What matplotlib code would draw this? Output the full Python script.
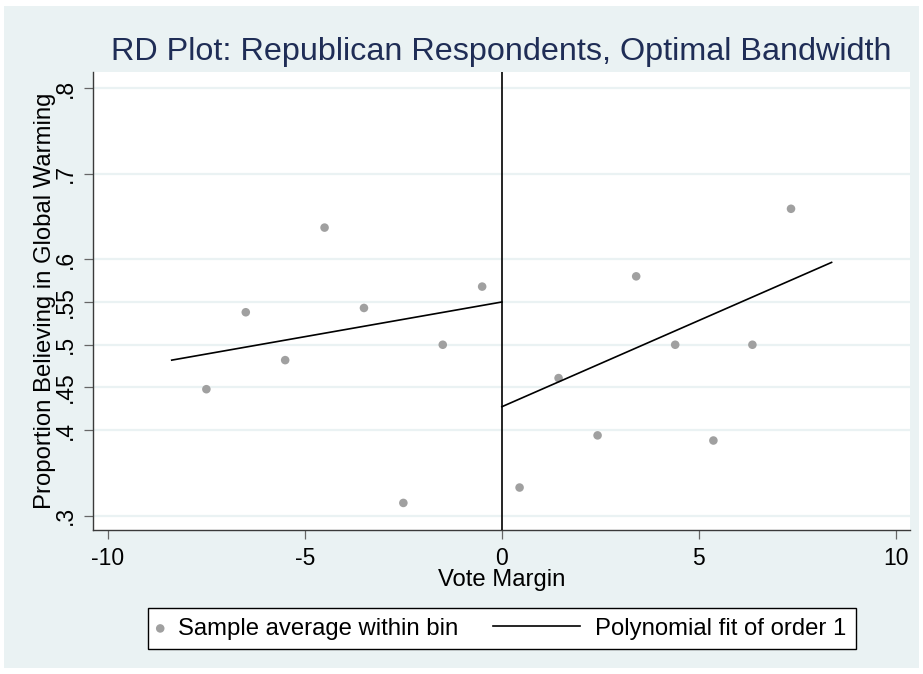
import matplotlib
matplotlib.use("Agg")
import matplotlib.pyplot as plt
from matplotlib.legend_handler import HandlerLine2D
from matplotlib.patches import Rectangle

plt.rcParams['font.family'] = ['Liberation Sans', 'DejaVu Sans']
plt.rcParams['axes.unicode_minus'] = False

# bin averages
left_x = [-7.5, -6.5, -5.5, -4.5, -3.5, -2.5, -1.5, -0.5]
left_y = [0.448, 0.538, 0.482, 0.637, 0.543, 0.315, 0.500, 0.568]
right_x = [0.45, 1.44, 2.43, 3.41, 4.40, 5.37, 6.36, 7.34]
right_y = [0.333, 0.461, 0.394, 0.580, 0.500, 0.388, 0.500, 0.659]

# order 1 fits on each side of the cutoff
fit_left_x = [-8.38, 0.0]
fit_left_y = [0.482, 0.550]
fit_right_x = [0.0, 8.37]
fit_right_y = [0.4275, 0.5963]

x_ticks = [-10, -5, 0, 5, 10]
x_labels = ["-10", "-5", "0", "5", "10"]
y_ticks = [0.3, 0.4, 0.45, 0.5, 0.55, 0.6, 0.7, 0.8]
y_labels = [".3", ".4", ".45", ".5", ".55", ".6", ".7", ".8"]

bg = '#EAF2F3'
dot = '#A0A0A0'
fs_tick = 16.5
fs = 17.2


class LongLine(HandlerLine2D):
    # draw the legend line longer than the (short) handle box, to the left
    def get_xdata(self, legend, xdescent, ydescent, width, height, fontsize):
        x = [-xdescent + width - 3.66 * fontsize, -xdescent + width]
        return x, x


fig = plt.figure(figsize=(9.23, 6.74), dpi=100)
fig.patch.set_facecolor('white')
fig.patches.append(Rectangle((4 / 923, 6 / 674), 915 / 923, 662 / 674,
                             transform=fig.transFigure, facecolor=bg,
                             edgecolor='none', zorder=-10))

ax = fig.add_axes([0.1011, 0.2136, 0.8848, 0.6791])
ax.set_facecolor('white')

ax.scatter(left_x + right_x, left_y + right_y, s=38, color=dot,
           edgecolors='none', zorder=3, label='Sample average within bin')
ax.plot(fit_left_x, fit_left_y, color='black', lw=1.2, zorder=4,
        label='Polynomial fit of order 1')
ax.plot(fit_right_x, fit_right_y, color='black', lw=1.2, zorder=4)
ax.axvline(0, color='black', lw=1.2, zorder=4)

ax.set_xlim(-10.37, 10.36)
ax.set_ylim(0.2833, 0.8186)
ax.set_xticks(x_ticks)
ax.set_xticklabels(x_labels)
ax.set_yticks(y_ticks)
ax.set_yticklabels(y_labels, rotation=90, va='center')

ax.yaxis.grid(True, color=bg, lw=1.6)
ax.set_axisbelow(True)

for s in ['top', 'right']:
    ax.spines[s].set_visible(False)
for s in ['left', 'bottom']:
    ax.spines[s].set_color('#3a3a3a')
    ax.spines[s].set_linewidth(1.0)

ax.tick_params(axis='both', colors='#666666', labelcolor='black',
               labelsize=fs_tick, length=6.2, width=0.9)
ax.tick_params(axis='x', pad=6)
ax.tick_params(axis='y', pad=5.5)

ax.set_xlabel('Vote Margin', fontsize=fs)
ax.xaxis.set_label_coords(0.5, -0.085)
ax.set_ylabel('Proportion Believing in Global Warming', fontsize=fs)
ax.yaxis.set_label_coords(-0.046, 0.5)

fig.text(501 / 923, 1 - 60 / 674,
         'RD Plot: Republican Respondents, Optimal Bandwidth',
         ha='center', va='baseline', fontsize=23.3, color='#1F2D56')

handles, labels = ax.get_legend_handles_labels()
leg = fig.legend(handles, labels, loc='center',
                 bbox_to_anchor=(501.7 / 923, 1 - 628.7 / 674), ncol=2,
                 fontsize=fs, frameon=True, fancybox=False, framealpha=1,
                 edgecolor='black', handlelength=0.25, handletextpad=0.62,
                 columnspacing=4.85, borderpad=0.4, borderaxespad=0,
                 scatterpoints=1, handler_map={handles[1]: LongLine()})
leg.get_frame().set_linewidth(1.0)

fig.savefig('out.png', dpi=100, facecolor=fig.get_facecolor())
